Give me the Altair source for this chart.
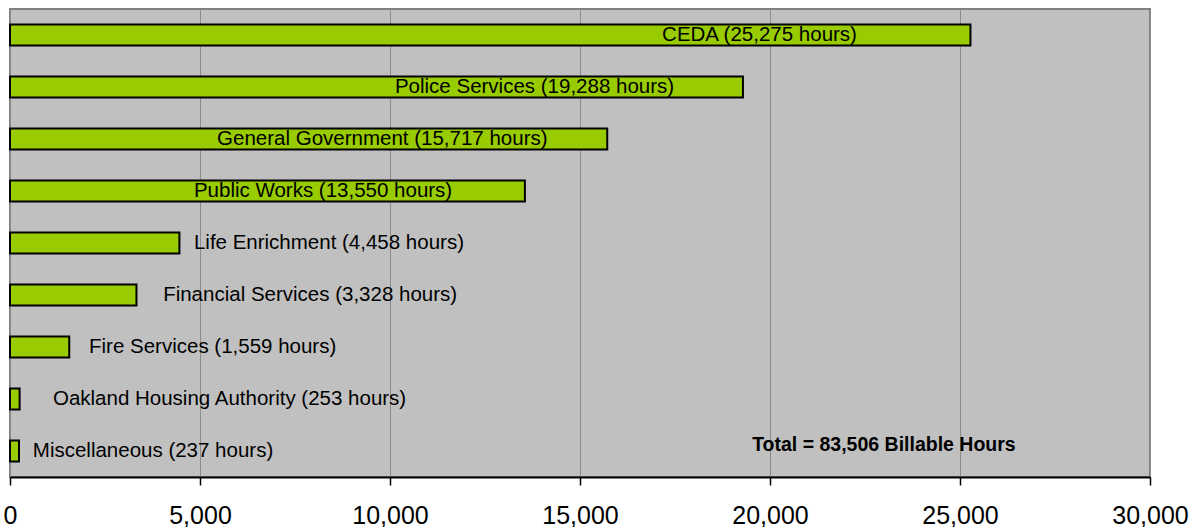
import altair as alt
import pandas as pd

# Billable hours by client department
departments = [
    "CEDA",
    "Police Services",
    "General Government",
    "Public Works",
    "Life Enrichment",
    "Financial Services",
    "Fire Services",
    "Oakland Housing Authority",
    "Miscellaneous",
]
hours = [25275, 19288, 15717, 13550, 4458, 3328, 1559, 253, 237]
# where each data label begins, in hours along the x axis
label_from = [17160, 10130, 5450, 4840, 4840, 4030, 2080, 1130, 600]
total_hours = 83506
x_ticks = [0, 5000, 10000, 15000, 20000, 25000, 30000]

df = pd.DataFrame({"dept": departments, "hours": hours, "label_from": label_from})
df["label"] = [f"{d} ({h:,} hours)" for d, h in zip(departments, hours)]

total_df = pd.DataFrame({
    "x": [19530],
    "dept": ["Miscellaneous"],
    "text": [f"Total = {total_hours:,} Billable Hours"],
})

FONT = "Liberation Sans"

x_scale = alt.Scale(domain=[0, 30000], nice=False, zero=True)
y_scale = alt.Scale(domain=departments, paddingInner=0.6, paddingOuter=0.3)

x_axis = alt.Axis(
    values=x_ticks,
    format=",.0f",
    title=None,
    grid=True,
    gridColor="#8c8c8c",
    gridWidth=1,
    domainColor="black",
    domainWidth=2,
    ticks=True,
    tickColor="black",
    tickWidth=1.5,
    tickSize=8,
    labelFont=FONT,
    labelFontSize=25,
    labelColor="black",
    labelPadding=18,
    labelFlush=False,
)

bars = alt.Chart(df).mark_bar(
    color="#99CC00", stroke="black", strokeWidth=2
).encode(
    x=alt.X("hours:Q", scale=x_scale, axis=x_axis),
    y=alt.Y("dept:N", scale=y_scale, axis=None, sort=departments),
)

labels = alt.Chart(df).mark_text(
    align="left", baseline="middle", font=FONT, fontSize=20.5, color="black", dy=0
).encode(
    x=alt.X("label_from:Q", scale=x_scale),
    y=alt.Y("dept:N", scale=y_scale, sort=departments),
    text="label:N",
)

total = alt.Chart(total_df).mark_text(
    align="left", baseline="middle", font=FONT, fontSize=19.5, fontWeight="bold",
    color="black", dy=-6
).encode(
    x=alt.X("x:Q", scale=x_scale),
    y=alt.Y("dept:N", scale=y_scale, sort=departments),
    text="text:N",
)

chart = alt.layer(bars, labels, total).properties(
    width=1140,
    height=468,
    autosize=alt.AutoSizeParams(type="none"),
    padding={"left": 10, "top": 9, "right": 51, "bottom": 50},
    background="white",
).configure_view(
    fill="#C0C0C0", stroke="#808080", strokeWidth=2
)

chart.save("out.html", embed_options={"renderer": "svg", "actions": False})
